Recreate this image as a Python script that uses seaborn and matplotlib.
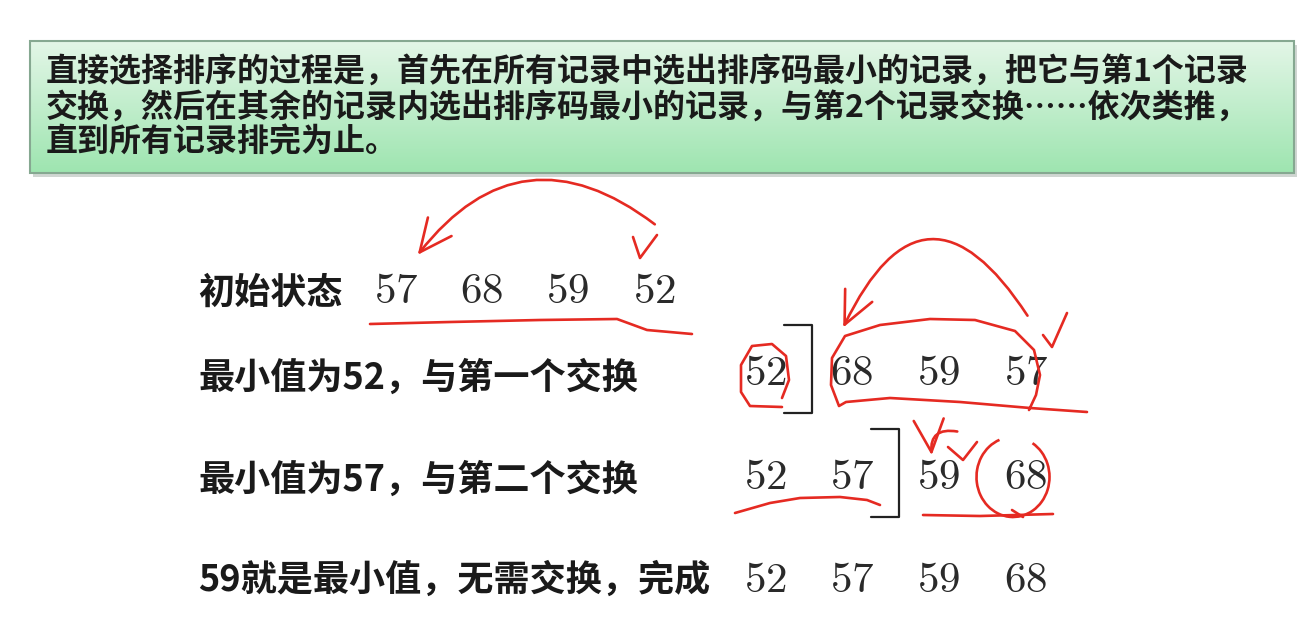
import numpy as np
import pandas as pd
import matplotlib
matplotlib.use('Agg')
import matplotlib.pyplot as plt
import seaborn as sns
from matplotlib.patches import FancyArrowPatch, Arc, Rectangle

sns.set_theme(style='white')
plt.rcParams['font.family'] = ['Noto Sans CJK SC', 'DejaVu Sans']
plt.rcParams['mathtext.fontset'] = 'cm'

# slide text
desc_lines = ['直接选择排序的过程是，首先在所有记录中选出排序码最小的记录，把它与第1个记录',
              '交换，然后在其余的记录内选出排序码最小的记录，与第2个记录交换……依次类推，',
              '直到所有记录排完为止。']
row_labels = ['初始状态', '最小值为52，与第一个交换', '最小值为57，与第二个交换', '59就是最小值，无需交换，完成']
row_values = [[57, 68, 59, 52],
              [52, 68, 59, 57],
              [52, 57, 59, 68],
              [52, 57, 59, 68]]
sorted_part = [0, 1, 2, 0]   # bracket drawn after this many keys (0 = none)

# layout (pixels, y down)
W, H = 1313, 638
box_l, box_t, box_r, box_b = 30, 41, 1294, 173
desc_x = 46
desc_y = [72, 108, 143]
label_x = 198
label_y = [293, 378, 480, 580]
num_y = [291, 373, 477, 580]
num_x0 = [396, 765, 765, 765]
num_dx = [86, 87, 87, 87]

red = '#e52a22'

# hand drawn red marks (pixel coords)
strokes = [
    [(633, 237), (640, 258), (657, 235)],                                   # tick row 1
    [(370, 324), (450, 322), (540, 320), (617, 319), (647, 330), (692, 334)],  # underline row 1
    [(782, 398), (789, 380), (786, 356), (772, 344), (752, 346), (741, 365),
     (741, 392), (750, 406), (782, 407)],                                    # circle 52
    [(1087, 412), (1030, 408), (960, 402), (890, 398), (846, 402), (839, 406),
     (831, 385), (832, 358), (845, 336), (880, 325), (930, 319), (975, 320),
     (1015, 331), (1034, 350), (1040, 375), (1036, 395), (1029, 410)],      # loop row 2
    [(1043, 335), (1052, 347), (1067, 313)],                                # tick row 2
    [(735, 513), (770, 503), (800, 498), (840, 497), (867, 500), (880, 505)],  # underline 52 57
    [(948, 447), (963, 460), (977, 442)],                                   # tick row 3
    [(923, 515), (980, 516), (1053, 514)],                                  # underline 59 68
    [(1023, 517), (1012, 510)],                                             # circle tail
]
arrows = [((657, 226), (416, 257), 0.5),
          ((1029, 318), (842, 330), 0.9),
          ((960, 432), (932, 458), 0.7)]

df = pd.DataFrame([(r, c, v) for r, vals in enumerate(row_values) for c, v in enumerate(vals)],
                  columns=['row', 'col', 'value'])

fig = plt.figure(figsize=(W / 100, H / 100), dpi=100)
ax = fig.add_axes([0, 0, 1, 1])
ax.set_xlim(0, W)
ax.set_ylim(H, 0)
ax.axis('off')

# green box with shadow
ax.add_patch(Rectangle((box_l + 3, box_t + 4), box_r - box_l, box_b - box_t,
                       facecolor='#7a8a80', alpha=0.35, edgecolor='none', zorder=1))
grad = np.linspace(0, 1, 100)[:, None]
top = np.array(matplotlib.colors.to_rgb('#e3f6e7'))
bot = np.array(matplotlib.colors.to_rgb('#9ee5b0'))
img = (top[None, None, :] * (1 - grad[..., None]) + bot[None, None, :] * grad[..., None])
ax.imshow(img, extent=(box_l, box_r, box_b, box_t), aspect='auto', zorder=2)
ax.add_patch(Rectangle((box_l, box_t), box_r - box_l, box_b - box_t,
                       facecolor='none', edgecolor='#86a891', lw=1.5, zorder=3))
ax.set_xlim(0, W)
ax.set_ylim(H, 0)

for y, line in zip(desc_y, desc_lines):
    ax.text(desc_x, y, line, fontsize=23, fontweight='bold', color='#1a1a1a',
            ha='left', va='center', zorder=4)

for y, lab in zip(label_y, row_labels):
    ax.text(label_x, y, lab, fontsize=26, fontweight='bold', color='#1a1a1a',
            ha='left', va='center', zorder=4)

for _, r in df.iterrows():
    x = num_x0[r.row] + num_dx[r.row] * r.col
    ax.text(x, num_y[r.row], f'${r.value}$', fontsize=31, color='#2a2a2a',
            ha='center', va='center', zorder=4)

# brackets marking the sorted part
for row, k in enumerate(sorted_part):
    if k == 0:
        continue
    bx = num_x0[row] + num_dx[row] * (k - 0.5) + 3
    y0, y1 = num_y[row] - 48, num_y[row] + 40
    ax.plot([bx - 28, bx, bx, bx - 28], [y0, y0, y1, y1], color='#222222', lw=1.6, zorder=4)

for s in strokes:
    xs, ys = zip(*s)
    ax.plot(xs, ys, color=red, lw=1.9, solid_joinstyle='round', solid_capstyle='round', zorder=5)

ax.add_patch(Arc((1013, 477), 73, 80, theta1=-60, theta2=250, color=red, lw=1.9, zorder=5))

for a, b, rad in arrows:
    ax.add_patch(FancyArrowPatch(a, b, connectionstyle=f'arc3,rad={rad}',
                                 arrowstyle='->,head_length=1.3,head_width=0.6',
                                 mutation_scale=18, color=red, lw=1.9, zorder=5))

fig.savefig('out.png', dpi=100)
